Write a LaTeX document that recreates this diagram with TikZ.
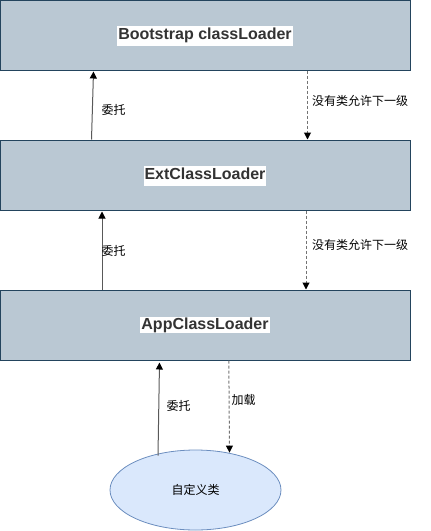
\documentclass[tikz,border=0pt]{standalone}
\usepackage{fontspec}
\setmainfont{Liberation Sans}
\newfontfamily\cjk{Noto Sans CJK SC}
\usetikzlibrary{arrows.meta,shapes.geometric}
\definecolor{boxfill}{HTML}{BAC8D3}
\definecolor{boxline}{HTML}{23445D}
\definecolor{ellfill}{HTML}{DAE8FC}
\definecolor{ellline}{HTML}{6C8EBF}
\definecolor{txt}{HTML}{333333}
\newcommand{\wbg}[1]{{\setlength{\fboxsep}{1pt}\colorbox{white}{#1}}}
\newcommand{\wbgtall}[1]{\raisebox{-4.8pt}[0pt][0pt]{{\setlength{\fboxsep}{1pt}\colorbox{white}{\rule[-5.5pt]{0pt}{18pt}#1}}}}
\begin{document}
\begin{tikzpicture}[x=1pt,y=-1pt,
  loaderbox/.style={draw=boxline,fill=boxfill,line width=1pt,minimum width=410pt,minimum height=70pt,inner sep=0pt,
    font=\fontsize{16}{18}\selectfont\bfseries,text=txt},
  cls/.style={draw=ellline,fill=ellfill,line width=0.8pt,ellipse,minimum width=171pt,minimum height=80pt,inner sep=0pt,
    font=\cjk\fontsize{12}{14}\selectfont},
  lbl/.style={font=\cjk\fontsize{12}{14}\selectfont,inner sep=0pt},
  solidarrow/.style={draw=black!65,line width=1pt,-{Triangle[black,length=7pt,width=7pt]}},
  dasharrow/.style={draw=black!55,line width=1pt,dash pattern=on 3pt off 2pt,-{Triangle[black,length=7pt,width=7pt]}},
]
\useasboundingbox (0,0) rectangle (431,531);
\node[loaderbox] (boot) at (205,35) {\wbgtall{Bootstrap classLoader}};
\node[loaderbox] (ext) at (205,175) {\wbgtall{ExtClassLoader}};
\node[loaderbox] (app) at (205,325) {\wbg{AppClassLoader}};
\node[cls] (self) at (195.5,490) {自定义类};

\draw[solidarrow] ([xshift=92pt]ext.north west) -- ([xshift=94pt,yshift=-1pt]boot.south west);
\draw[dasharrow] ([xshift=308pt]boot.south west) -- ([xshift=308pt]ext.north west);
\draw[solidarrow] ([xshift=102.5pt]app.north west) -- ([xshift=102.5pt,yshift=-1pt]ext.south west);
\draw[dasharrow] ([xshift=306.5pt]ext.south west) -- ([xshift=306.5pt]app.north west);
\draw[solidarrow] ([xshift=-37.5pt,yshift=-6pt]self.north) -- ([xshift=160pt,yshift=-2pt]app.south west);
\draw[dasharrow] ([xshift=229.3pt]app.south west) -- ([xshift=34pt,yshift=-3pt]self.north);

\node[lbl] (l1) at (113.5,110) {委托};
\node[lbl] (l2) at (360,101) {没有类允许下一级};
\node[lbl] (l3) at (113.5,251) {委托};
\node[lbl] (l4) at (360,245) {没有类允许下一级};
\node[lbl] (l5) at (178.5,406) {委托};
\node[lbl] (l6) at (243.5,400) {加载};
\end{tikzpicture}
\end{document}
